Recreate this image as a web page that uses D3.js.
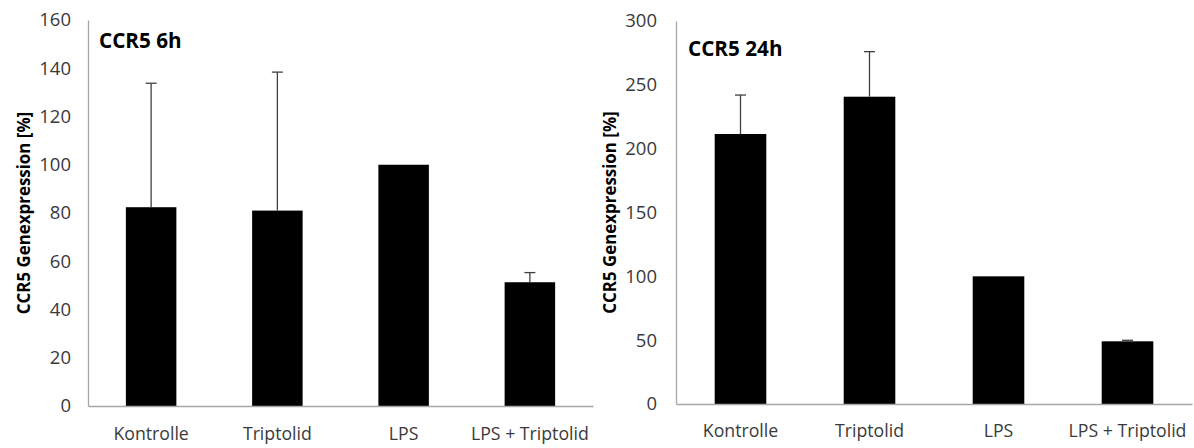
<!DOCTYPE html>
<html>
<head>
<meta charset="utf-8">
<script src="https://cdn.jsdelivr.net/npm/d3@7"></script>
<style>
  html, body { margin: 0; padding: 0; background: #fff; }
  svg { display: block; }
  text { font-family: "Open Sans", "Noto Sans", sans-serif; }
</style>
</head>
<body>
<svg id="chart" width="1194" height="448"></svg>
<script>
// ---- data ----
const categories = ["Kontrolle", "Triptolid", "LPS", "LPS + Triptolid"];
const values6h = [82.4, 81, 100, 51.3];
const errors6h = [51.4, 57.4, 0, 4.0];
const values24h = [211.5, 240.7, 100, 49.1];
const errors24h = [30.5, 35.3, 0, 0.8];
const ticks6h = [0, 20, 40, 60, 80, 100, 120, 140, 160];
const ticks24h = [0, 50, 100, 150, 200, 250, 300];
const titles = ["CCR5 6h", "CCR5 24h"];
const yLabel = "CCR5 Genexpression [%]";

// ---- layout ----
const panels = [
  { x0: 88, x1: 593, yTop: 20, yBot: 406, max: 160, ticks: ticks6h, vals: values6h, errs: errors6h,
    title: titles[0], titleX: 99, titleY: 48, ylabX: 30, tickX: 71, xlabY: 440 },
  { x0: 676, x1: 1192, yTop: 21, yBot: 404, max: 300, ticks: ticks24h, vals: values24h, errs: errors24h,
    title: titles[1], titleX: 688, titleY: 56, ylabX: 616, tickX: 657, xlabY: 437 }
];

const svg = d3.select("#chart");
const axisColor = "#a6a6a6";
const textColor = "#3a3a3a";

panels.forEach(p => {
  const g = svg.append("g");
  const x = d3.scaleBand().domain(categories).range([p.x0, p.x1]).padding(0);
  const y = d3.scaleLinear().domain([0, p.max]).range([p.yBot, p.yTop]);
  const bw = x.bandwidth() * 0.4;

  // y axis
  const yAxis = d3.axisLeft(y).tickValues(p.ticks).tickSize(0).tickPadding(0);
  const ya = g.append("g").attr("transform", `translate(${p.x0},0)`).call(yAxis);
  ya.select(".domain").attr("stroke", axisColor).attr("stroke-width", 1.3);
  ya.selectAll("text")
    .attr("x", p.tickX - p.x0)
    .attr("font-size", 18.5)
    .attr("fill", textColor)
    .style("font-family", '"Open Sans", sans-serif');

  // bars
  g.selectAll("rect.bar").data(p.vals).enter().append("rect")
    .attr("class", "bar")
    .attr("x", (d, i) => x(categories[i]) + x.bandwidth() / 2 - bw / 2)
    .attr("width", bw)
    .attr("y", d => y(d))
    .attr("height", d => y(0) - y(d))
    .attr("fill", "#000");

  // error bars
  p.vals.forEach((v, i) => {
    if (!p.errs[i]) return;
    const cx = x(categories[i]) + x.bandwidth() / 2;
    g.append("line").attr("x1", cx).attr("x2", cx)
      .attr("y1", y(v)).attr("y2", y(v + p.errs[i]))
      .attr("stroke", "#404040").attr("stroke-width", 1.3);
    g.append("line").attr("x1", cx - 5.5).attr("x2", cx + 5.5)
      .attr("y1", y(v + p.errs[i])).attr("y2", y(v + p.errs[i]))
      .attr("stroke", "#404040").attr("stroke-width", 1.3);
  });

  // x axis
  const xAxis = d3.axisBottom(x).tickSize(0).tickPadding(0);
  const xa = g.append("g").attr("transform", `translate(0,${p.yBot})`).call(xAxis);
  xa.select(".domain").attr("stroke", axisColor).attr("stroke-width", 1.3);
  xa.selectAll("text")
    .attr("y", p.xlabY - p.yBot)
    .attr("dy", null)
    .attr("font-size", 17.7)
    .attr("fill", textColor)
    .style("font-family", '"Open Sans", sans-serif');

  // title
  g.append("text").attr("x", p.titleX).attr("y", p.titleY)
    .attr("font-size", 20.7).attr("font-weight", "bold").attr("fill", "#000")
    .text(p.title);

  // y label
  g.append("text")
    .attr("transform", `translate(${p.ylabX},${(p.yTop + p.yBot) / 2}) rotate(-90)`)
    .attr("text-anchor", "middle")
    .attr("font-size", 16.9).attr("font-weight", "bold").attr("fill", "#000")
    .text(yLabel);
});
</script>
</body>
</html>
